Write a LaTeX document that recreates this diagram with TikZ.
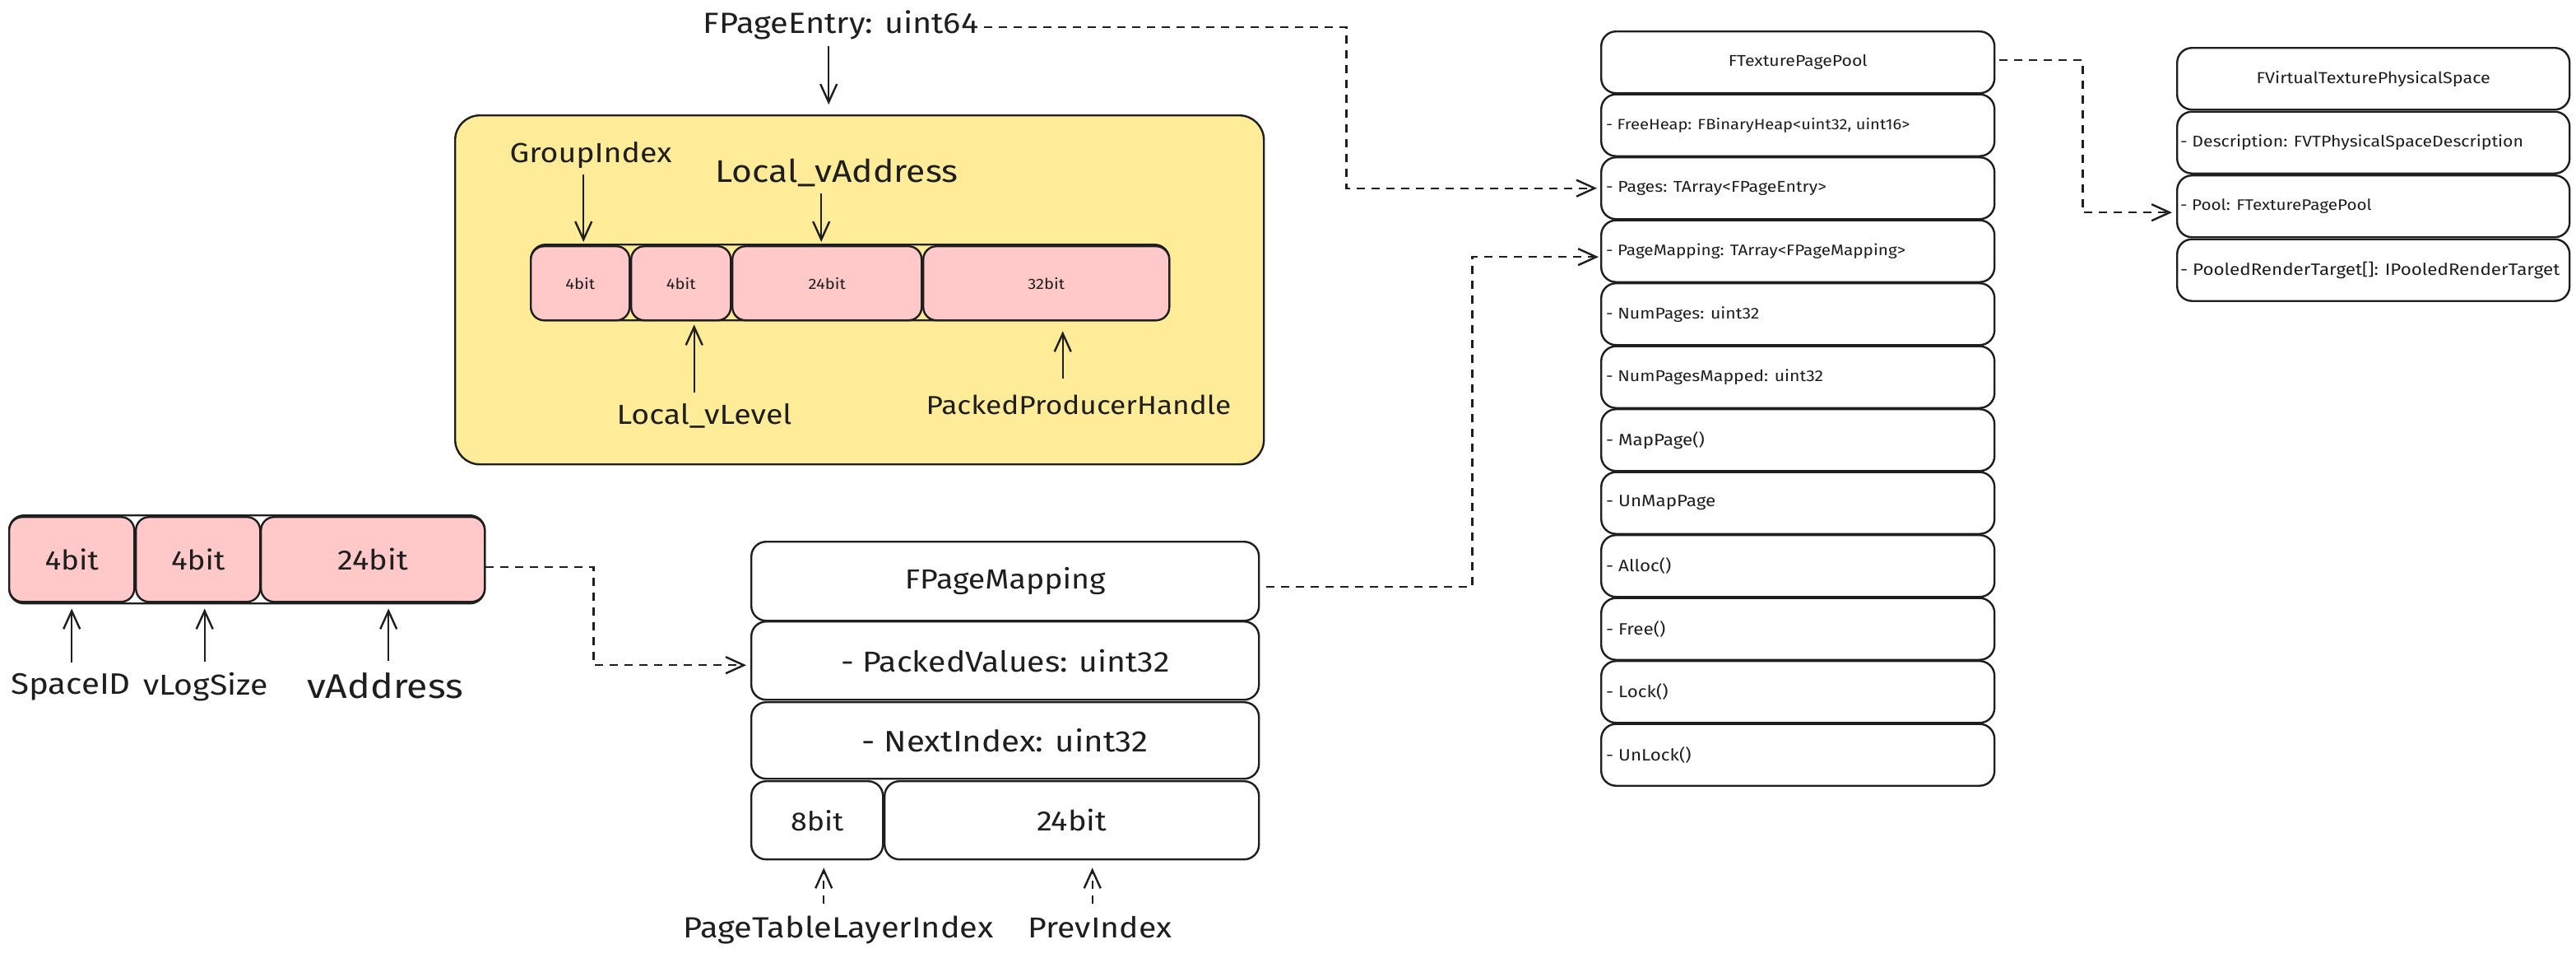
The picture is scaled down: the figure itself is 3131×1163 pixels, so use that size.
\documentclass[tikz,border=0pt]{standalone}
\usepackage{fontspec}
\setmainfont[FakeStretch=1.12]{Fira Sans}
\usetikzlibrary{arrows.meta}
\definecolor{ink}{HTML}{1E1E1E}
\definecolor{noteyellow}{HTML}{FFEC99}
\definecolor{bitpink}{HTML}{FFC9C9}
\newcommand\fsz[1]{\fontsize{#1}{#1}\selectfont}

\begin{document}
\begin{tikzpicture}[x=1pt,y=-1pt,
  box/.style={draw=ink, line width=2.4pt, rounded corners=18pt, inner sep=0pt, anchor=north west},
  bitcell/.style={box, fill=bitpink, rounded corners=16pt},
  rowbox/.style={box, fill=white, minimum height=75pt},
  big/.style={font=\fsz{35}, text=ink, inner sep=0pt},
  small/.style={font=\fsz{18}, text=ink, inner sep=0pt},
  rowtxt/.style={font=\fsz{19}, text=ink, inner sep=0pt, anchor=west},
  arr/.style={draw=ink, line width=2.4pt, -{Straight Barb[length=22pt,width=20pt]}},
  darr/.style={arr, dash pattern=on 10pt off 8pt}
]
\useasboundingbox (0,0) rectangle (3131,1163);
\fill[white] (0,0) rectangle (3131,1163);

% ---------- 32-bit virtual address (left) ----------
\node[box, minimum width=578pt, minimum height=107pt] (lbar) at (10,625) {};
\node[bitcell, big, font=\fsz{33}, minimum width=152pt, minimum height=103pt] (b1) at (10,627) {4bit};
\node[bitcell, big, font=\fsz{33}, minimum width=151pt, minimum height=103pt] (b2) at (164,627) {4bit};
\node[bitcell, big, font=\fsz{34}, minimum width=272pt, minimum height=103pt] (b3) at (316,627) {24bit};

\node[big, font=\fsz{36}] (spaceid) at (86,835) {SpaceID};
\node[big] (vlogsize) at (250,835) {vLogSize};
\node[big, font=\fsz{41.5}] (vaddr) at (468,833) {vAddress};

\draw[arr] ([yshift=13pt]b1.south |- spaceid.north) -- ([yshift=-7pt]b1.south);
\draw[arr] ([xshift=8pt,yshift=13pt]b2.south |- vlogsize.north) -- ([xshift=8pt,yshift=-7pt]b2.south);
\draw[arr] ([xshift=19pt,yshift=14pt]b3.south |- vaddr.north) -- ([xshift=19pt,yshift=-7pt]b3.south);

% ---------- FPageEntry layout ----------
\node[big, font=\fsz{35.5}] (fpe) at (1022,30) {FPageEntry: uint64};
\node[box, fill=noteyellow, rounded corners=30pt, minimum width=983pt, minimum height=424pt] (entry) at (552,139) {};
\node[box, minimum width=776pt, minimum height=92pt] (ebar) at (644,296) {};
\node[bitcell, small, minimum width=120pt, minimum height=90pt] (e1) at (644,298) {4bit};
\node[bitcell, small, minimum width=121pt, minimum height=90pt] (e2) at (766,298) {4bit};
\node[bitcell, small, minimum width=230pt, minimum height=90pt] (e3) at (889,298) {24bit};
\node[bitcell, small, minimum width=299pt, minimum height=90pt] (e4) at (1121,298) {32bit};

\node[big, font=\fsz{33.5}] (gi) at (718,188) {GroupIndex};
\node[big, font=\fsz{38}] (lva) at (1017,210) {Local\_vAddress};
\node[big, font=\fsz{33.5}] (lvl) at (856,505) {Local\_vLevel};
\node[big, font=\fsz{31.5}] (pph) at (1311,492) {PackedProducerHandle};

\draw[arr] ([xshift=2pt,yshift=-8pt]fpe.south -| e3.north) -- ([xshift=2pt,yshift=12pt]entry.north -| e3.north);
\draw[arr] ([xshift=4pt,yshift=-8pt]e1.north |- gi.south) -- ([xshift=4pt,yshift=4pt]e1.north);
\draw[arr] ([xshift=-7pt,yshift=-8pt]e3.north |- lva.south) -- ([xshift=-7pt,yshift=4pt]e3.north);
\draw[arr] ([xshift=16pt,yshift=13pt]e2.south |- lvl.north) -- ([xshift=16pt,yshift=-4pt]e2.south);
\draw[arr] ([xshift=20pt,yshift=20pt]e4.south |- pph.north) -- ([xshift=20pt,yshift=-12pt]e4.south);

% ---------- FPageMapping ----------
\node[box, big, font=\fsz{33.5}, minimum width=617pt, minimum height=96pt] (pm1) at (912,657) {FPageMapping};
\node[box, big, minimum width=617pt, minimum height=95pt] (pm2) at (912,754) {- PackedValues: uint32};
\node[box, big, font=\fsz{36}, minimum width=617pt, minimum height=93pt] (pm3) at (912,852) {- NextIndex: uint32};
\node[box, big, font=\fsz{32}, minimum width=160pt, minimum height=95pt] (pm4a) at (912,948) {8bit};
\node[box, big, font=\fsz{34}, minimum width=455pt, minimum height=95pt] (pm4b) at (1074,948) {24bit};

\node[big, font=\fsz{35.5}] (ptli) at (1019,1130) {PageTableLayerIndex};
\node[big] (prev) at (1337,1127) {PrevIndex};

\draw[darr] ([xshift=8pt,yshift=15pt]pm4a.south |- ptli.north) -- ([xshift=8pt,yshift=-9pt]pm4a.south);
\draw[darr] ([xshift=25pt,yshift=15pt]pm4b.south |- prev.north) -- ([xshift=25pt,yshift=-9pt]pm4b.south);

% ---------- FTexturePagePool ----------
\node[rowbox, minimum width=478pt] (p1) at (1945,37) {};
\node[rowtxt, anchor=center] (p1t) at (p1.center) {FTexturePagePool};
\node[rowbox, minimum width=478pt] (p2) at (1945,113.5) {};
\node[rowtxt, font=\fsz{18}] (p2t) at ([xshift=7pt]p2.west) {- FreeHeap: FBinaryHeap<uint32, uint16>};
\node[rowbox, minimum width=478pt] (p3) at (1945,190) {};
\node[rowtxt] (p3t) at ([xshift=7pt]p3.west) {- Pages: TArray<FPageEntry>};
\node[rowbox, minimum width=478pt] (p4) at (1945,266.5) {};
\node[rowtxt, font=\fsz{18.5}] (p4t) at ([xshift=7pt]p4.west) {- PageMapping: TArray<FPageMapping>};
\node[rowbox, minimum width=478pt] (p5) at (1945,343) {};
\node[rowtxt] (p5t) at ([xshift=7pt]p5.west) {- NumPages: uint32};
\node[rowbox, minimum width=478pt] (p6) at (1945,419.5) {};
\node[rowtxt] (p6t) at ([xshift=7pt]p6.west) {- NumPagesMapped: uint32};
\node[rowbox, minimum width=478pt] (p7) at (1945,496) {};
\node[rowtxt, font=\fsz{20}] (p7t) at ([xshift=7pt]p7.west) {- MapPage()};
\node[rowbox, minimum width=478pt] (p8) at (1945,572.5) {};
\node[rowtxt, font=\fsz{20}] (p8t) at ([xshift=7pt]p8.west) {- UnMapPage};
\node[rowbox, minimum width=478pt] (p9) at (1945,649) {};
\node[rowtxt, font=\fsz{20}] (p9t) at ([xshift=7pt]p9.west) {- Alloc()};
\node[rowbox, minimum width=478pt] (p10) at (1945,725.5) {};
\node[rowtxt, font=\fsz{20}] (p10t) at ([xshift=7pt]p10.west) {- Free()};
\node[rowbox, minimum width=478pt] (p11) at (1945,802) {};
\node[rowtxt, font=\fsz{20}] (p11t) at ([xshift=7pt]p11.west) {- Lock()};
\node[rowbox, minimum width=478pt] (p12) at (1945,878.5) {};
\node[rowtxt, font=\fsz{20}] (p12t) at ([xshift=7pt]p12.west) {- UnLock()};

% ---------- FVirtualTexturePhysicalSpace ----------
\node[rowbox, minimum width=477pt] (v1) at (2645,57) {};
\node[rowtxt, font=\fsz{19.3}, anchor=center] (v1t) at (v1.center) {FVirtualTexturePhysicalSpace};
\node[rowbox, minimum width=477pt] (v2) at (2645,134.5) {};
\node[rowtxt] (v2t) at ([xshift=5pt]v2.west) {- Description: FVTPhysicalSpaceDescription};
\node[rowbox, minimum width=477pt] (v3) at (2645,212) {};
\node[rowtxt, font=\fsz{18.5}] (v3t) at ([xshift=5pt]v3.west) {- Pool: FTexturePagePool};
\node[rowbox, minimum width=477pt] (v4) at (2645,289.5) {};
\node[rowtxt, font=\fsz{20}] (v4t) at ([xshift=5pt]v4.west) {- PooledRenderTarget[]: IPooledRenderTarget};

% ---------- references between structures ----------
\draw[darr, shorten >=4pt] ([xshift=7pt,yshift=-3pt]fpe.east) -- ++(440,0) |- (p3.west);
\draw[darr, shorten >=5pt] ([yshift=-9.5pt]lbar.east) -- ++(131,0) |- ([yshift=-5.5pt]pm2.west);
\draw[darr, shorten >=2pt] ([xshift=8pt,yshift=-7pt]pm1.east) -- ++(250,0) |- ([yshift=-7pt]p4.west);
\draw[darr, shorten >=5pt] ([xshift=5pt,yshift=2.5pt]p1.east) -- ++(101,0) |- ([yshift=-7.5pt]v3.west);
\end{tikzpicture}
\end{document}
